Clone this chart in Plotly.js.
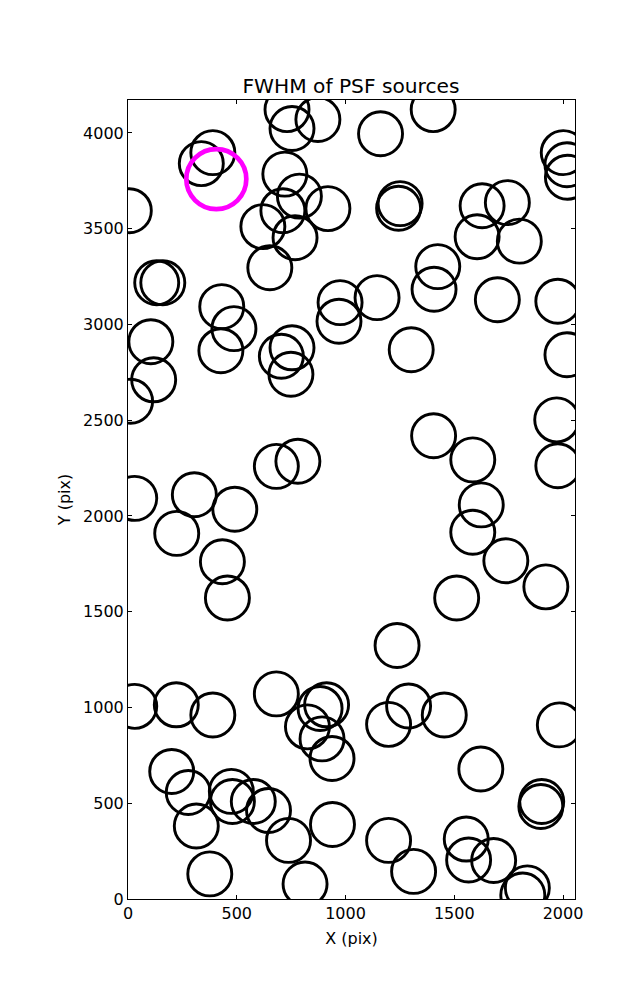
<!DOCTYPE html>
<html>
<head>
<meta charset="utf-8">
<script src="https://cdn.plot.ly/plotly-3.0.1.min.js"></script>
<style>html,body{margin:0;padding:0;background:#fff;}#chart{width:637px;height:1000px;}</style>
</head>
<body>
<div id="chart"></div>
<script>
// Source positions (pixel coordinates on the detector)
const srcX = [731, 754, 873, 1161, 1403, 337, 390, 6, 721, 788, 712, 919, 620, 768, 652,
  2001, 2018, 2020, 1251, 1244, 1628, 1744, 1605, 1799, 132, 160, 431, 487, 427, 105,
  118, 12, 705, 754, 749, 975, 970, 1145, 1302, 1424, 1407, 1698, 1976, 2018, 1405,
  1585, 1971, 1976, 682, 781, 31, 305, 491, 224, 434, 457, 1624, 1585, 1737, 1921,
  1511, 1237, 31, 222, 390, 682, 913, 883, 825, 892, 938, 201, 277, 475, 480, 576,
  646, 314, 738, 940, 376, 814, 1290, 1198, 1454, 1983, 1622, 1902, 1898, 1198, 1313,
  1555, 1566, 1681, 1836, 1815];
const srcY = [4122, 4023, 4070, 3996, 4122, 3840, 3897, 3594, 3785, 3670, 3594, 3605, 3511, 3453, 3296,
  3897, 3834, 3769, 3631, 3607, 3620, 3636, 3458, 3435, 3218, 3218, 3093, 2978, 2863, 2910,
  2711, 2599, 2834, 2878, 2740, 3114, 3017, 3140, 2868, 3302, 3184, 3129, 3121, 2842, 2419,
  2293, 2502, 2262, 2259, 2286, 2092, 2111, 2035, 1909, 1761, 1572, 2058, 1915, 1766, 1630,
  1572, 1324, 1006, 1014, 961, 1071, 1014, 995, 899, 836, 734, 666, 556, 562, 509, 509,
  462, 381, 306, 389, 131, 78, 1008, 912, 961, 909, 679, 509, 483, 306, 144,
  313, 204, 201, 58, 21];
// Highlighted source
const hlX = [406];
const hlY = [3759];

const titleText = 'FWHM of PSF sources';
const xLabel = 'X (pix)';
const yLabel = 'Y (pix)';
const xTicks = [0, 500, 1000, 1500, 2000];
const yTicks = [0, 500, 1000, 1500, 2000, 2500, 3000, 3500, 4000];

const FONT = 'DejaVu Sans, Bitstream Vera Sans, sans-serif';

const traces = [
  {
    x: srcX, y: srcY, type: 'scatter', mode: 'markers', hoverinfo: 'none',
    marker: {symbol: 'circle-open', size: 44, color: '#000000', line: {width: 2.9, color: '#000000'}},
    cliponaxis: true
  },
  {
    x: hlX, y: hlY, type: 'scatter', mode: 'markers', hoverinfo: 'none',
    marker: {symbol: 'circle-open', size: 60, color: '#ff00ff', line: {width: 4.7, color: '#ff00ff'}},
    cliponaxis: true
  }
];

const axisCommon = {
  showgrid: false, zeroline: false, showline: true, linecolor: '#000', linewidth: 1,
  mirror: 'allticks', ticks: 'inside', ticklen: 4, tickwidth: 1, tickcolor: '#000',
  tickfont: {family: FONT, size: 16, color: '#000'}, automargin: false, fixedrange: true
};

const layout = {
  width: 637, height: 1000,
  margin: {l: 128, r: 62, t: 100, b: 101},
  paper_bgcolor: '#fff', plot_bgcolor: '#fff',
  showlegend: false,
  font: {family: FONT, color: '#000'},
  title: {text: titleText, font: {family: FONT, size: 20.2, color: '#000'},
          x: 0.5510, xref: 'container', xanchor: 'center', y: 0.914, yref: 'container', yanchor: 'middle'},
  xaxis: Object.assign({}, axisCommon, {
    range: [0, 2055], tickmode: 'array', tickvals: xTicks, ticktext: xTicks.map(String),
    title: {text: xLabel, font: {family: FONT, size: 16, color: '#000'}, standoff: 10}
  }),
  yaxis: Object.assign({}, axisCommon, {
    range: [0, 4172], tickmode: 'array', tickvals: yTicks, ticktext: yTicks.map(String),
    title: {text: yLabel, font: {family: FONT, size: 16, color: '#000'}, standoff: 8}
  })
};

Plotly.newPlot('chart', traces, layout, {staticPlot: true, displayModeBar: false});
</script>
</body>
</html>
